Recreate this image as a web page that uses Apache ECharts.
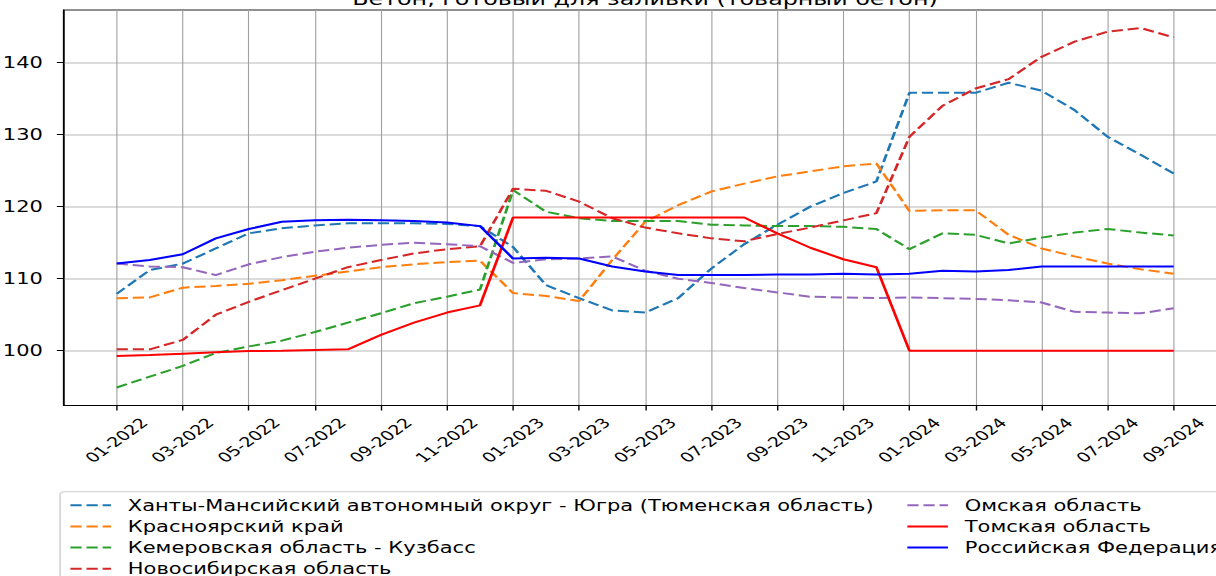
<!DOCTYPE html>
<html><head><meta charset="utf-8">
<script src="https://cdn.jsdelivr.net/npm/echarts@6/dist/echarts.min.js"></script>
<style>
html,body{margin:0;padding:0;overflow:hidden;background:#fff;width:1216px;height:576px}
#c{width:886px;height:576px;transform:scaleX(1.4);transform-origin:0 0;}
</style>
</head><body><div id="c"></div>
<script>
const months = ['01-2022','02-2022','03-2022','04-2022','05-2022','06-2022','07-2022','08-2022','09-2022','10-2022','11-2022','12-2022',
 '01-2023','02-2023','03-2023','04-2023','05-2023','06-2023','07-2023','08-2023','09-2023','10-2023','11-2023','12-2023',
 '01-2024','02-2024','03-2024','04-2024','05-2024','06-2024','07-2024','08-2024','09-2024'];
const xTickIdx = [0,2,4,6,8,10,12,14,16,18,20,22,24,26,28,30,32];
const yTicks = [100,110,120,130,140];
const names = ['Ханты-Мансийский автономный округ - Югра (Тюменская область)','Красноярский край','Кемеровская область - Кузбасс','Новосибирская область','Омская область','Томская область','Российская Федерация'];
const hmao = [107.9,111.2,112.1,114.2,116.3,117.0,117.4,117.7,117.7,117.7,117.6,117.3,114.4,109.1,107.3,105.6,105.3,107.3,111.4,114.8,117.5,120.0,121.9,123.5,135.8,135.8,135.8,137.2,136.1,133.4,129.7,127.2,124.6];
const krasnoyarsk = [107.3,107.4,108.75,109.0,109.3,109.8,110.4,111.0,111.6,112.0,112.3,112.5,108.0,107.6,106.9,112.6,117.9,120.2,122.1,123.2,124.2,124.9,125.6,126.0,119.4,119.5,119.5,116.1,114.2,113.1,112.1,111.3,110.7];
const kemerovo = [94.9,96.4,97.9,99.7,100.6,101.4,102.6,103.9,105.2,106.6,107.5,108.5,122.3,119.3,118.4,118.0,118.0,118.0,117.5,117.4,117.3,117.3,117.2,116.9,114.1,116.3,116.1,114.9,115.7,116.4,116.9,116.4,116.0];
const novosib = [100.2,100.2,101.5,105.0,106.8,108.4,110.0,111.6,112.6,113.5,114.1,114.5,122.5,122.2,120.7,118.4,117.1,116.3,115.6,115.2,116.2,117.1,118.1,119.1,129.7,134.0,136.4,137.7,140.8,142.9,144.3,144.8,143.5];
const omsk = [112.1,111.7,111.6,110.5,112.0,113.0,113.75,114.3,114.7,115.0,114.8,114.5,112.2,112.7,112.8,113.1,111.1,110.0,109.4,108.7,108.1,107.5,107.4,107.3,107.4,107.3,107.2,107.0,106.7,105.4,105.3,105.2,105.9];
const tomsk = [99.26,99.4,99.6,99.8,99.95,100.0,100.1,100.2,102.2,103.9,105.3,106.3,118.5,118.5,118.5,118.5,118.5,118.5,118.5,118.5,116.3,114.3,112.7,111.6,100,100,100,100,100,100,100,100,100];
const rf = [112.1,112.6,113.4,115.6,116.9,117.9,118.1,118.2,118.1,118.0,117.8,117.3,112.8,112.9,112.8,111.7,111.0,110.5,110.5,110.5,110.6,110.6,110.7,110.6,110.7,111.1,111.0,111.2,111.7,111.7,111.7,111.7,111.7];

const values = [hmao, krasnoyarsk, kemerovo, novosib, omsk, tomsk, rf];
const colors = ['#1f77b4','#ff7f0e','#2ca02c','#d62728','#9467bd','#ff0000','#0000ff'];
const dash = [8,3.5];
const types = [dash,dash,dash,dash,dash,'solid','solid'];

const chart = echarts.init(document.getElementById('c'), null, {renderer:'svg'});
const series = values.map((arr, k) => ({
  name: names[k], type: 'line', symbol: 'none', showSymbol: false, smooth: false,
  data: arr.map((v, i) => [i, v]),
  lineStyle: {color: colors[k], width: 2, type: types[k]},
  itemStyle: {color: colors[k]},
  emphasis: {disabled: true}, silent: true, z: 3 + k
}));
const legendText = {fontFamily: 'DejaVu Sans', fontSize: 15, color: '#000', padding: [0,0,0,7]};
chart.setOption({
  animation: false,
  backgroundColor: '#fff',
  title: {
    text: 'Бетон, готовый для заливки (товарный бетон)',
    left: 460.7, top: -9.5, padding: 0, textAlign: 'center',
    textStyle: {fontFamily: 'DejaVu Sans', fontSize: 17, fontWeight: 'normal', color: '#000'}
  },
  grid: {left: 45.6, right: 9.9, top: 10, bottom: 170.5, show: true, borderColor: '#222', borderWidth: 1, containLabel: false, outerBoundsMode: 'none'},
  legend: [{
    orient: 'vertical', left: 42.9, top: 491.7, height: 92,
    padding: [6, 400, 6, 6.4],
    itemWidth: 29, itemHeight: 14, itemGap: 6.2,
    borderColor: '#cccccc', borderWidth: 1, borderRadius: 3, backgroundColor: 'rgba(255,255,255,0.8)',
    selectedMode: false,
    itemStyle: {opacity: 0},
    textStyle: legendText,
    data: names.slice(0, 4), z: 10
  }, {
    orient: 'vertical', left: 647.1, top: 497.7, height: 92,
    padding: 0,
    itemWidth: 29, itemHeight: 14, itemGap: 6.2,
    selectedMode: false,
    itemStyle: {opacity: 0},
    textStyle: legendText,
    data: names.slice(4), z: 11
  }],
  xAxis: {
    type: 'value', min: -1.6, max: 33.6,
    axisLine: {show: true, onZero: false, lineStyle: {color: '#000', width: 1.2}},
    axisTick: {show: true, customValues: xTickIdx, length: 5, lineStyle: {color: '#000', width: 1}},
    axisLabel: {customValues: xTickIdx, formatter: v => months[Math.round(v)], rotate: 45, align: 'center', verticalAlign: 'middle', margin: 35,
      fontFamily: 'DejaVu Sans', fontSize: 13.5, color: '#000'},
    splitLine: {show: true, lineStyle: {color: '#a0a0a0', width: 0.8}}
  },
  yAxis: {
    type: 'value', min: 92.4, max: 147.3,
    axisLine: {show: true, onZero: false, lineStyle: {color: '#000', width: 1.2}},
    axisTick: {show: true, customValues: yTicks, length: 5, lineStyle: {color: '#000', width: 1}},
    axisLabel: {customValues: yTicks, margin: 15, fontFamily: 'DejaVu Sans', fontSize: 15, color: '#000'},
    splitLine: {show: true, lineStyle: {color: '#cfcfcf', width: 1.5}}
  },
  series: series
});
</script>
</body></html>
